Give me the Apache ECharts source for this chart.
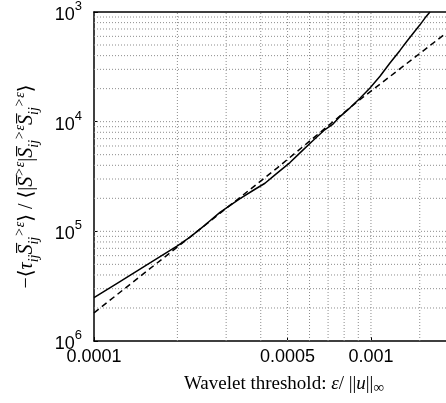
<!DOCTYPE html>
<html><head><meta charset="utf-8">
<script src="https://cdn.jsdelivr.net/npm/echarts@6/dist/echarts.min.js"></script>
<style>html,body{margin:0;padding:0;background:#fff}#c{width:446px;height:403px}</style>
</head><body><div id="c"></div>
<script>
// Solid curve (measured)
const solidX = [1.000e-4, 1.241e-4, 1.593e-4, 2.0e-4, 2.222e-4, 2.516e-4, 2.850e-4, 3.366e-4, 3.813e-4, 4.143e-4, 4.503e-4, 5.100e-4, 5.542e-4, 6.124e-4, 6.823e-4, 7.292e-4, 7.729e-4, 8.401e-4, 9.127e-4, 9.917e-4, 1.078e-3, 1.171e-3, 1.273e-3, 1.346e-3, 1.442e-3, 1.503e-3, 1.566e-3, 1.633e-3];
const solidY = [2.481e-6, 3.481e-6, 5.158e-6, 7.357e-6, 8.841e-6, 1.141e-5, 1.491e-5, 1.984e-5, 2.420e-5, 2.744e-5, 3.276e-5, 4.236e-5, 5.190e-5, 6.598e-5, 8.480e-5, 9.511e-5, 1.113e-4, 1.337e-4, 1.638e-4, 2.031e-4, 2.594e-4, 3.424e-4, 4.464e-4, 5.387e-4, 6.708e-4, 7.637e-4, 8.803e-4, 1.0e-3];
// Dashed reference line (measured)
const dashedX = [1.000e-4, 2.222e-4, 4.567e-4, 8.880e-4, 1.866e-3];
const dashedY = [1.806e-6, 8.878e-6, 3.753e-5, 1.506e-4, 6.408e-4];

const xTickValues = [0.0001, 0.0005, 0.001];
const xTickLabels = ['0.0001', '0.0005', '0.001'];
const yTickValues = [1e-6, 1e-5, 1e-4, 1e-3];
const yTickExponents = ['6', '5', '4', '3'];
const xGridValues = [2e-4, 3e-4, 4e-4, 5e-4, 6e-4, 7e-4, 8e-4, 9e-4, 1e-3, 1.5e-3];
const yGridValues = [2e-6, 3e-6, 4e-6, 5e-6, 6e-6, 7e-6, 8e-6, 9e-6, 1e-5,
  2e-5, 3e-5, 4e-5, 5e-5, 6e-5, 7e-5, 8e-5, 9e-5, 1e-4,
  2e-4, 3e-4, 4e-4, 5e-4, 6e-4, 7e-4, 8e-4, 9e-4];
const xMin = 1e-4, xMax = 1.866e-3, yMin = 1e-6, yMax = 1e-3;

const chart = echarts.init(document.getElementById('c'), null, {renderer: 'canvas'});
const serif = '"Liberation Serif", "DejaVu Serif", serif';
const sans = '"Liberation Sans", Arial, sans-serif';
const gridStyle = {type: [1, 2], color: '#8c8c8c', width: 1};

const gridSeries = [];
xGridValues.forEach(v => gridSeries.push({
  type: 'line', z: 1, silent: true, showSymbol: false, symbol: 'none',
  data: [[v, yMin], [v, yMax]], lineStyle: gridStyle, emphasis: {disabled: true}
}));
yGridValues.forEach(v => gridSeries.push({
  type: 'line', z: 1, silent: true, showSymbol: false, symbol: 'none',
  data: [[xMin, v], [xMax, v]], lineStyle: gridStyle, emphasis: {disabled: true}
}));

const option = {
  backgroundColor: '#fff',
  animation: false,
  grid: {left: 94, right: 0, top: 10.5, bottom: 62, containLabel: false},
  xAxis: [{
    type: 'log', logBase: 10, min: xMin, max: xMax,
    position: 'bottom',
    axisLine: {show: true, onZero: false, lineStyle: {color: '#000', width: 1.5}},
    axisTick: {show: true, inside: true, length: 4, customValues: xTickValues, lineStyle: {color: '#000'}},
    splitLine: {show: false},
    axisLabel: {
      show: true, customValues: xTickValues, margin: 7,
      fontFamily: sans, fontSize: 18, color: '#000',
      formatter: function (v) {
        for (let i = 0; i < xTickValues.length; i++) {
          if (Math.abs(v - xTickValues[i]) / xTickValues[i] < 1e-6) return xTickLabels[i];
        }
        return '';
      }
    },
    name: '{t|Wavelet threshold: }{i|\u03B5}{t|/ ||}{i|u}{t|||}{s|\u221E}',
    nameLocation: 'middle', nameGap: 31,
    nameTextStyle: {
      padding: [0, 0, 0, 28],
      rich: {
        t: {fontFamily: serif, fontSize: 19, color: '#000', lineHeight: 24, verticalAlign: 'middle'},
        i: {fontFamily: serif, fontSize: 19, fontStyle: 'italic', color: '#000', lineHeight: 24, verticalAlign: 'middle'},
        s: {fontFamily: serif, fontSize: 15, color: '#000', lineHeight: 24, verticalAlign: 'bottom'}
      }
    }
  }, {
    type: 'log', logBase: 10, min: xMin, max: xMax, position: 'top',
    axisLine: {show: true, onZero: false, lineStyle: {color: '#000', width: 1.5}},
    axisTick: {show: false}, axisLabel: {show: false}, splitLine: {show: false}
  }],
  yAxis: [{
    type: 'log', logBase: 10, min: yMin, max: yMax,
    axisLine: {show: true, onZero: false, lineStyle: {color: '#000', width: 1.5}},
    axisTick: {show: true, inside: true, length: 4, lineStyle: {color: '#000'}},
    splitLine: {show: false},
    axisLabel: {
      margin: 12, color: '#000',
      formatter: function (v) {
        for (let i = 0; i < yTickValues.length; i++) {
          if (Math.abs(v - yTickValues[i]) / yTickValues[i] < 1e-6) return '{b|10}{p|' + yTickExponents[i] + '}';
        }
        return '';
      },
      rich: {
        b: {fontFamily: sans, fontSize: 18, color: '#000', lineHeight: 24, verticalAlign: 'bottom'},
        p: {fontFamily: sans, fontSize: 13, color: '#000', lineHeight: 24, verticalAlign: 'top'}
      }
    },
    name: '{t|\u2212\u27E8}{i|\u03C4}{s|ij}{i|S\u0305}{s|ij}{p|>\u03B5}{t|\u27E9 / \u27E8|}{i|S\u0305}{p|>\u03B5}{t||}{i|S\u0305}{s|ij}{p|>\u03B5}{i|S\u0305}{s|ij}{p|>\u03B5}{t|\u27E9}',
    nameLocation: 'middle', nameRotate: 90, nameGap: 53,
    nameTextStyle: {
      padding: [0, 20, 0, 0],
      rich: {
        t: {fontFamily: serif, fontSize: 20, color: '#000', lineHeight: 28, verticalAlign: 'middle'},
        i: {fontFamily: serif, fontSize: 20, fontStyle: 'italic', color: '#000', lineHeight: 28, verticalAlign: 'middle'},
        s: {fontFamily: serif, fontSize: 14, fontStyle: 'italic', color: '#000', lineHeight: 28, verticalAlign: 'bottom'},
        p: {fontFamily: serif, fontSize: 14, fontStyle: 'italic', color: '#000', lineHeight: 28, verticalAlign: 'top'}
      }
    }
  }],
  series: gridSeries.concat([{
    name: 'dashed', type: 'line', z: 3, showSymbol: false, symbol: 'none',
    data: dashedX.map((x, i) => [x, dashedY[i]]),
    lineStyle: {color: '#000', width: 1.5, type: [6, 4]}
  }, {
    name: 'solid', type: 'line', z: 4, showSymbol: false, symbol: 'none',
    data: solidX.map((x, i) => [x, solidY[i]]),
    lineStyle: {color: '#000', width: 1.5}
  }])
};
chart.setOption(option);
</script>
</body></html>
